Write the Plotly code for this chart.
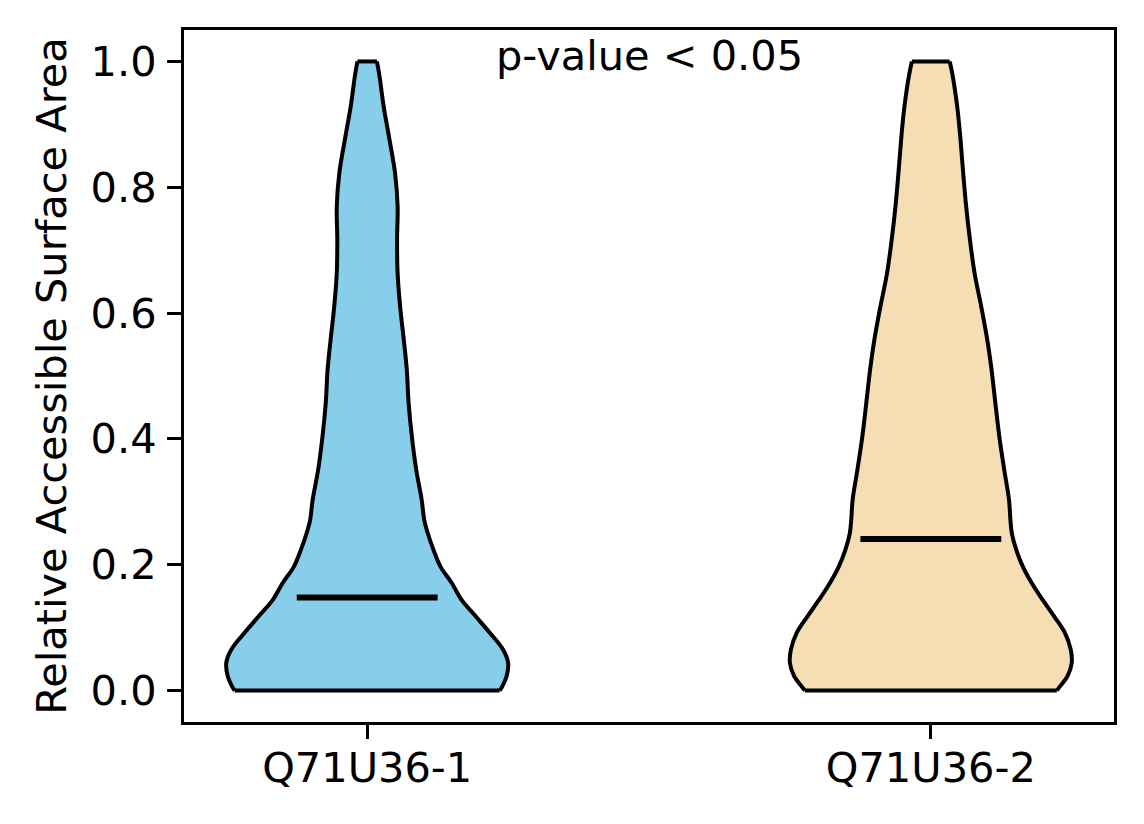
import plotly.graph_objects as go

# violin outlines: y grid and relative density (1.0 = widest)
grid = [0.0, 0.007, 0.023, 0.044, 0.065, 0.092, 0.118, 0.144, 0.171, 0.197,
        0.224, 0.25, 0.271, 0.303, 0.351, 0.404, 0.457, 0.51, 0.557, 0.61,
        0.663, 0.716, 0.769, 0.822, 0.875, 0.927, 0.98, 1.0]
density_1 = [0.94, 0.96, 0.99, 1.0, 0.965, 0.87, 0.77, 0.67, 0.60, 0.52,
             0.47, 0.43, 0.405, 0.387, 0.348, 0.317, 0.294, 0.281, 0.26, 0.234,
             0.216, 0.212, 0.216, 0.198, 0.159, 0.118, 0.085, 0.069]
density_2 = [0.894, 0.918, 0.97, 1.0, 0.993, 0.951, 0.875, 0.794, 0.716, 0.653,
             0.606, 0.575, 0.565, 0.555, 0.521, 0.486, 0.458, 0.431, 0.401, 0.358,
             0.311, 0.278, 0.251, 0.23, 0.211, 0.188, 0.153, 0.134]

groups = ["Q71U36-1", "Q71U36-2"]
positions = [1, 2]
medians = [0.148, 0.241]
colors = ["skyblue", "wheat"]

FONT = "DejaVu Sans"
FS = 41.5
half_width = 0.25  # widths=0.5
edge = dict(color="black", width=4, shape="spline", smoothing=1.0)

fig = go.Figure()

for pos, dens, col in zip(positions, [density_1, density_2], colors):
    left = [pos - half_width * d for d in dens]
    right = [pos + half_width * d for d in dens]
    # body: plain polygon fill, outline drawn on top
    fig.add_trace(go.Scatter(x=left + right[::-1], y=grid + grid[::-1],
                             mode="lines", fill="toself", fillcolor=col,
                             line=dict(width=0, color=col),
                             showlegend=False, hoverinfo="skip"))
    for side in (left, right):
        fig.add_trace(go.Scatter(x=side, y=grid, mode="lines", line=edge,
                                 showlegend=False, hoverinfo="skip"))
    for i in (0, -1):
        fig.add_trace(go.Scatter(x=[left[i], right[i]], y=[grid[i], grid[i]],
                                 mode="lines", line=dict(color="black", width=4),
                                 showlegend=False, hoverinfo="skip"))

for pos, med in zip(positions, medians):
    fig.add_trace(go.Scatter(
        x=[pos - half_width / 2, pos + half_width / 2], y=[med, med],
        mode="lines", line=dict(color="black", width=6),
        showlegend=False, hoverinfo="skip"))

fig.add_annotation(x=1.5, y=1.0, text="p-value < 0.05", showarrow=False,
                   xanchor="center", yanchor="middle", yshift=6,
                   font=dict(family=FONT, size=FS, color="black"))

axis_style = dict(showline=True, linecolor="black", linewidth=3.3, mirror=True,
                  ticks="outside", ticklen=14, tickwidth=3.3, tickcolor="black",
                  showgrid=False, zeroline=False,
                  tickfont=dict(family=FONT, size=FS, color="black"))

fig.update_xaxes(range=[0.675, 2.325], tickvals=positions, ticktext=groups,
                 ticklabelstandoff=-7, **axis_style)
fig.update_yaxes(range=[-0.05, 1.05], tickvals=[0, 0.2, 0.4, 0.6, 0.8, 1.0],
                 ticktext=["0.0", "0.2", "0.4", "0.6", "0.8", "1.0"],
                 ticklabelstandoff=2,
                 title=dict(text="Relative Accessible Surface Area", standoff=12,
                            font=dict(family=FONT, size=FS, color="black")),
                 **axis_style)

fig.update_layout(width=1144, height=824,
                  margin=dict(l=176, r=38, t=22, b=110),
                  paper_bgcolor="white", plot_bgcolor="white",
                  font=dict(family=FONT, size=FS, color="black"))

fig.write_html("out.html")
